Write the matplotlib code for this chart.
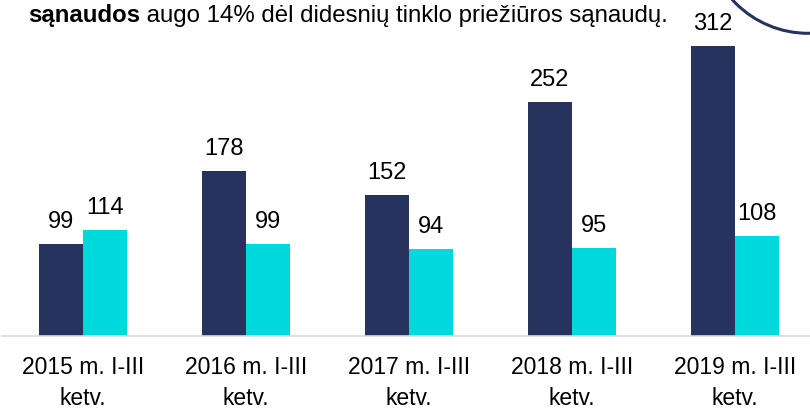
"""
Sąnaudos pagal laikotarpį, mln. EUR.
"""

import numpy as np
import matplotlib
matplotlib.use("Agg")
import matplotlib.pyplot as plt
from matplotlib.patches import Circle

plt.rcParams["font.family"] = ["Liberation Sans", "DejaVu Sans"]

periods = ["2015 m. I-III\nketv.", "2016 m. I-III\nketv.", "2017 m. I-III\nketv.",
           "2018 m. I-III\nketv.", "2019 m. I-III\nketv."]
dark_vals = [99, 178, 152, 252, 312]
cyan_vals = [114, 99, 94, 95, 108]

navy = "#26335E"
cyan = "#00D9DB"

fig = plt.figure(figsize=(8.10, 4.09), dpi=100)
ax = fig.add_axes([0.0025, 0.1785, 0.9975, 0.8215])

x = np.arange(len(periods))
w = 0.27
b1 = ax.bar(x - w / 2, dark_vals, w, color=navy)
b2 = ax.bar(x + w / 2, cyan_vals, w, color=cyan)

for bars in (b1, b2):
    for rect in bars:
        ax.annotate(f"{rect.get_height():.0f}",
                    (rect.get_x() + rect.get_width() / 2, rect.get_height()),
                    xytext=(0, 11.5), textcoords="offset points",
                    ha="center", va="baseline", fontsize=17)

ax.set_xlim(-0.497, 4.46)
ax.set_ylim(0, 361.5)
ax.set_xticks(x)
ax.set_xticklabels(periods, fontsize=16.5, linespacing=1.42)
ax.tick_params(axis="x", length=0, pad=14.5)
ax.set_yticks([])
for s in ["left", "right", "top"]:
    ax.spines[s].set_visible(False)
ax.spines["bottom"].set_color("#D9D9D9")
ax.spines["bottom"].set_linewidth(1.2)

# header text, cut from the slide
t1 = fig.text(28 / 810, 1 - 22 / 409, "sąnaudos", fontsize=17.3,
              fontweight="bold", va="baseline", ha="left")
fig.canvas.draw()
ax.annotate(" augo 14% dėl didesnių tinklo priežiūros sąnaudų.",
            xy=(1, 0), xycoords=t1, va="bottom", ha="left", fontsize=17.3,
            annotation_clip=False)

# arc of the slide's circle badge
arc = Circle((8.08, 4.09 + 0.687), 1.02, transform=fig.dpi_scale_trans,
             fill=False, edgecolor=navy, linewidth=2.2, clip_on=False)
fig.patches.append(arc)

fig.savefig("out.png", dpi=100)
